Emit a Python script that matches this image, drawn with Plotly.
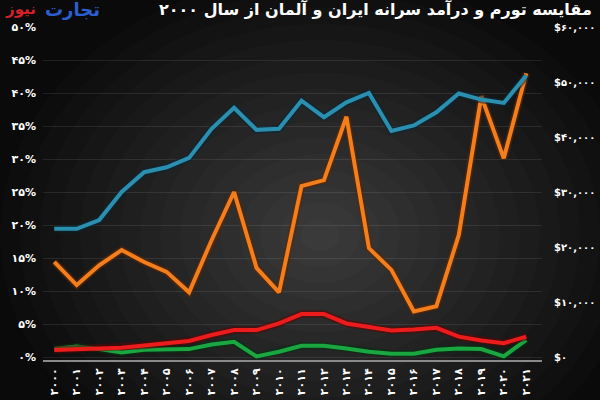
import plotly.graph_objects as go

years = list(range(2000, 2022))
year_labels = ["۲۰۰۰", "۲۰۰۱", "۲۰۰۲", "۲۰۰۳", "۲۰۰۴", "۲۰۰۵", "۲۰۰۶", "۲۰۰۷", "۲۰۰۸", "۲۰۰۹", "۲۰۱۰",
               "۲۰۱۱", "۲۰۱۲", "۲۰۱۳", "۲۰۱۴", "۲۰۱۵", "۲۰۱۶", "۲۰۱۷", "۲۰۱۸", "۲۰۱۹", "۲۰۲۰", "۲۰۲۱"]

# Germany GDP per capita (right axis, $)
germany_gdp = [23300, 23300, 24900, 30000, 33600, 34500, 36200, 41500, 45300, 41300, 41500,
               46600, 43600, 46300, 48000, 41100, 42100, 44500, 47900, 46800, 46200, 51200]
# Iran inflation (left axis, %)
iran_inflation = [14.4, 10.9, 13.9, 16.2, 14.4, 12.9, 9.8, 17.7, 25.0, 13.5, 9.8,
                  25.9, 26.8, 36.4, 16.5, 13.2, 6.9, 7.7, 18.5, 39.5, 30.1, 43.0]
# Iran GDP per capita (right axis, $)
iran_gdp = [1270, 1400, 1500, 1700, 2100, 2500, 2900, 4000, 4900, 4900, 6100,
            7800, 7800, 6100, 5500, 4800, 5000, 5300, 3700, 3000, 2500, 3700]
# Germany inflation (left axis, %)
germany_inflation = [1.2, 1.6, 1.2, 0.7, 1.1, 1.2, 1.2, 1.9, 2.3, 0.1, 0.8,
                     1.7, 1.7, 1.3, 0.8, 0.5, 0.5, 1.1, 1.3, 1.2, 0.1, 2.6]

left_ticks = [0, 5, 10, 15, 20, 25, 30, 35, 40, 45, 50]
left_labels = ["۰%", "۵%", "۱۰%", "۱۵%", "۲۰%", "۲۵%", "۳۰%", "۳۵%", "۴۰%", "۴۵%", "۵۰%"]
right_ticks = [0, 10000, 20000, 30000, 40000, 50000, 60000]
right_labels = ["$۰", "$۱۰,۰۰۰", "$۲۰,۰۰۰", "$۳۰,۰۰۰", "$۴۰,۰۰۰", "$۵۰,۰۰۰", "$۶۰,۰۰۰"]

title_text = "مقایسه تورم و درآمد سرانه ایران و آلمان از سال ۲۰۰۰"

W, H = 600, 400
ML, MR, MT, MB = 43, 58, 27, 40
PW, PH = W - ML - MR, H - MT - MB


def px_x(p):
    return (p - ML) / PW


def px_y(p):
    return 1 - (p - MT) / PH


fig = go.Figure()

series = [
    (germany_gdp, "y2", "#2b8fb0", "rgba(10,40,55,0.55)"),
    (iran_inflation, "y", "#f47d1c", "rgba(90,40,5,0.6)"),
    (germany_inflation, "y", "#1aa640", "rgba(5,50,15,0.55)"),
    (iran_gdp, "y2", "#ec1c1c", "rgba(90,5,5,0.55)"),
]
for vals, ax, col, shadow in series:
    fig.add_trace(go.Scatter(x=years, y=vals, yaxis=ax, mode="lines",
                             line=dict(color=shadow, width=7.5), hoverinfo="skip", showlegend=False))
    fig.add_trace(go.Scatter(x=years, y=vals, yaxis=ax, mode="lines",
                             line=dict(color=col, width=4), showlegend=False))

# radial-like background glow
shapes = []
N = 16
cx, cy = 320, 235
rx, ry = 320, 260
for i in range(N):
    f = 1 - i / N
    shapes.append(dict(type="circle", xref="paper", yref="paper", layer="below",
                       x0=px_x(cx - rx * f), x1=px_x(cx + rx * f),
                       y0=px_y(cy + ry * f), y1=px_y(cy - ry * f),
                       fillcolor="rgba(255,255,255,0.017)", line=dict(width=0)))

annotations = [
    dict(text=title_text, xref="paper", yref="paper", x=px_x(594), y=px_y(9),
         xanchor="right", yanchor="middle", showarrow=False,
         font=dict(family="DejaVu Sans", size=16, color="white", weight="bold")),
    dict(text="تجارت", xref="paper", yref="paper", x=px_x(102), y=px_y(9),
         xanchor="right", yanchor="middle", showarrow=False,
         font=dict(family="DejaVu Sans", size=18, color="#2a5fd0", weight="bold")),
    dict(text="نیوز", xref="paper", yref="paper", x=px_x(38), y=px_y(9),
         xanchor="right", yanchor="middle", showarrow=False,
         font=dict(family="DejaVu Sans", size=15, color="#d8202a", weight="bold")),
]

tick_font = dict(family="DejaVu Sans", size=11, color="white", weight="bold")
right_font = dict(family="DejaVu Sans", size=10, color="white", weight="bold")

fig.update_layout(
    width=W, height=H,
    margin=dict(l=ML, r=MR, t=MT, b=MB, autoexpand=False),
    paper_bgcolor="#0a0a0a",
    plot_bgcolor="rgba(0,0,0,0)",
    shapes=shapes,
    annotations=annotations,
    showlegend=False,
    xaxis=dict(range=[1999.5, 2021.7], tickvals=years, ticktext=year_labels, tickangle=-90,
               showgrid=False, zeroline=False, showline=True, linecolor="#8a8a8a", linewidth=2,
               ticks="", ticklabelstandoff=2, tickfont=tick_font, automargin=False),
    yaxis=dict(range=[-0.45, 50], tickvals=left_ticks, ticktext=left_labels,
               showgrid=True, gridcolor="rgba(255,255,255,0.09)", gridwidth=1,
               zeroline=False, ticks="", ticklabelstandoff=6, tickfont=tick_font,
               automargin=False),
    yaxis2=dict(range=[-545, 60000], tickvals=right_ticks, ticktext=right_labels,
                overlaying="y", side="right", showgrid=False, zeroline=False, ticks="",
                ticklabelstandoff=11, tickfont=right_font, automargin=False),
)

fig.write_html("out.html")
